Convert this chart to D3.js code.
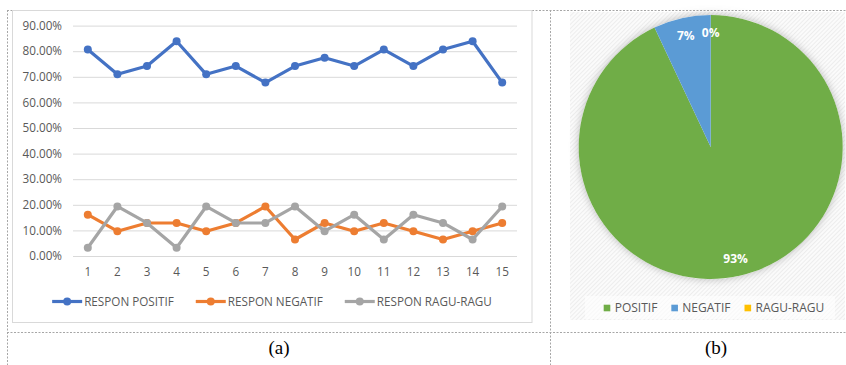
<!DOCTYPE html>
<html>
<head>
<meta charset="utf-8">
<script src="https://cdn.jsdelivr.net/npm/d3@7"></script>
<style>
  body { margin: 0; background: #fff; }
  svg { display: block; }
  text { font-family: "Open Sans", "Noto Sans", sans-serif; }
</style>
</head>
<body>
<svg id="fig" width="846" height="365"></svg>
<script>
// ---- data -------------------------------------------------------------
const categories = ["1","2","3","4","5","6","7","8","9","10","11","12","13","14","15"];
const responPositif = [80.65, 70.97, 74.19, 83.87, 70.97, 74.19, 67.74, 74.19, 77.42, 74.19, 80.65, 74.19, 80.65, 83.87, 67.74];
const responNegatif = [16.13, 9.68, 12.90, 12.90, 9.68, 12.90, 19.35, 6.45, 12.90, 9.68, 12.90, 9.68, 6.45, 9.68, 12.90];
const responRagu    = [3.23, 19.35, 12.90, 3.23, 19.35, 12.90, 12.90, 19.35, 9.68, 16.13, 6.45, 16.13, 12.90, 6.45, 19.35];
const seriesNames   = ["RESPON POSITIF", "RESPON NEGATIF", "RESPON RAGU-RAGU"];
const yTicks = [0, 10, 20, 30, 40, 50, 60, 70, 80, 90];

const pieNames  = ["POSITIF", "NEGATIF", "RAGU-RAGU"];
const pieValues = [93, 7, 0];

const captions = ["(a)", "(b)"];

// ---- setup ------------------------------------------------------------
const svg = d3.select("#fig");
const defs = svg.append("defs");

const hatch = defs.append("pattern")
  .attr("id", "hatch").attr("patternUnits", "userSpaceOnUse")
  .attr("width", 3).attr("height", 3)
  .attr("patternTransform", "rotate(45)");
hatch.append("rect").attr("width", 3).attr("height", 3).attr("fill", "#fbfbfb");
hatch.append("line").attr("x1", 0).attr("y1", 0).attr("x2", 0).attr("y2", 3)
  .attr("stroke", "#e4e4e4").attr("stroke-width", 1.2);

const glow = defs.append("filter").attr("id", "glow")
  .attr("x", "-20%").attr("y", "-20%").attr("width", "140%").attr("height", "140%");
glow.append("feDropShadow").attr("dx", 0).attr("dy", 0)
  .attr("stdDeviation", 4).attr("flood-color", "#8c8c8c").attr("flood-opacity", 0.6);

// ---- table frame (dashed) ---------------------------------------------
const dash = svg.append("g").attr("stroke", "#a6a6a6").attr("stroke-width", 1)
  .attr("stroke-dasharray", "2,1.5").attr("fill", "none");
dash.append("line").attr("x1", 7).attr("x2", 846).attr("y1", 10.5).attr("y2", 10.5);
dash.append("line").attr("x1", 7).attr("x2", 846).attr("y1", 332.5).attr("y2", 332.5);
dash.append("line").attr("x1", 7.5).attr("x2", 7.5).attr("y1", 10).attr("y2", 365);
dash.append("line").attr("x1", 550.5).attr("x2", 550.5).attr("y1", 10).attr("y2", 365);

// ---- (a) line chart ---------------------------------------------------
svg.append("rect").attr("x", 12.5).attr("y", 10.5).attr("width", 519.5).attr("height", 312)
  .attr("fill", "#fff").attr("stroke", "#d9d9d9");

const x = d3.scaleBand().domain(categories).range([73, 517]);
const y = d3.scaleLinear().domain([0, 90]).range([256, 25.6]);

const gy = svg.append("g").attr("transform", "translate(73,0)")
  .call(d3.axisLeft(y).tickValues(yTicks).tickSize(-444).tickPadding(11)
    .tickFormat(d => d3.format(".2f")(d) + "%"));
gy.select(".domain").remove();
gy.selectAll(".tick line").attr("stroke", "#d9d9d9").attr("stroke-width", 1);
gy.selectAll(".tick text").attr("fill", "#595959").style("font-size", "11.7px")
  .style("font-family", "'Open Sans', sans-serif");

const gx = svg.append("g").attr("transform", "translate(0,256)")
  .call(d3.axisBottom(x).tickSize(0).tickPadding(12));
gx.select(".domain").remove();
gx.selectAll(".tick text").attr("fill", "#595959").style("font-size", "11.7px")
  .style("font-family", "'Open Sans', sans-serif");

const seriesData = [responPositif, responNegatif, responRagu];
const seriesColors = ["#4472c4", "#ed7d31", "#a5a5a5"];
const line = d3.line().x((d, i) => x(categories[i]) + x.bandwidth() / 2).y(d => y(d));

seriesData.forEach((vals, k) => {
  const g = svg.append("g");
  g.append("path").datum(vals).attr("d", line).attr("fill", "none")
    .attr("stroke", seriesColors[k]).attr("stroke-width", 3.2)
    .attr("stroke-linejoin", "round").attr("stroke-linecap", "round");
  g.selectAll("circle").data(vals).join("circle")
    .attr("cx", (d, i) => x(categories[i]) + x.bandwidth() / 2)
    .attr("cy", d => y(d)).attr("r", 4).attr("fill", seriesColors[k]);
});

// legend (a)
const legA = svg.append("g");
const itemsA = legA.selectAll("g").data(seriesNames).join("g");
itemsA.append("line").attr("x1", 0).attr("x2", 30).attr("y1", 0).attr("y2", 0)
  .attr("stroke", (d, i) => seriesColors[i]).attr("stroke-width", 3.2);
itemsA.append("circle").attr("cx", 15).attr("cy", 0).attr("r", 4)
  .attr("fill", (d, i) => seriesColors[i]);
itemsA.append("text").attr("x", 32).attr("y", 0).attr("dy", "0.35em")
  .attr("fill", "#595959").style("font-size", "11.7px").text(d => d);
const widthsA = [];
itemsA.each(function () {
  widthsA.push(32 + this.querySelector("text").getComputedTextLength());
});
const totalA = d3.sum(widthsA) + 22 * (widthsA.length - 1);
let startA = 272 - totalA / 2;
itemsA.attr("transform", (d, i) => {
  const t = `translate(${startA},301.5)`;
  startA += widthsA[i] + 22;
  return t;
});

// ---- (b) pie chart ----------------------------------------------------
svg.append("rect").attr("x", 570).attr("y", 12).attr("width", 275).attr("height", 308)
  .attr("fill", "url(#hatch)");

const pieColors = ["#70ad47", "#5b9bd5", "#ffc000"];
const cx = 710.7, cy = 147, R = 132;
const pie = d3.pie().sort(null).value(d => d);
const arcs = pie(pieValues);
const arc = d3.arc().innerRadius(0).outerRadius(R);
const labelArc = d3.arc().innerRadius(114).outerRadius(114);

const gp = svg.append("g").attr("transform", `translate(${cx},${cy})`);
gp.append("circle").attr("r", R).attr("fill", "#fff").attr("filter", "url(#glow)");
gp.selectAll("path").data(arcs).join("path")
  .attr("d", arc).attr("fill", (d, i) => pieColors[i]);
gp.selectAll("text").data(arcs).join("text")
  .attr("transform", d => `translate(${labelArc.centroid(d)})`)
  .attr("text-anchor", "middle").attr("dy", "0.36em")
  .attr("fill", "#fff").style("font-size", "12px").style("font-weight", "700")
  .text(d => d3.format(".0f")(d.data) + "%");

// legend (b)
svg.append("rect").attr("x", 585).attr("y", 296).attr("width", 250).attr("height", 23)
  .attr("fill", "#fff").attr("opacity", 0.6);
const legB = svg.append("g");
const itemsB = legB.selectAll("g").data(pieNames).join("g");
itemsB.append("rect").attr("x", 0).attr("y", -3.3).attr("width", 6.6).attr("height", 6.6)
  .attr("fill", (d, i) => pieColors[i]);
itemsB.append("text").attr("x", 11).attr("y", 0).attr("dy", "0.35em")
  .attr("fill", "#595959").style("font-size", "12px").text(d => d);
const widthsB = [];
itemsB.each(function () {
  widthsB.push(11 + this.querySelector("text").getComputedTextLength());
});
const totalB = d3.sum(widthsB) + 14 * (widthsB.length - 1);
let startB = 714 - totalB / 2;
itemsB.attr("transform", (d, i) => {
  const t = `translate(${startB},308)`;
  startB += widthsB[i] + 14;
  return t;
});

// ---- captions ---------------------------------------------------------
svg.selectAll(".cap").data(captions).join("text").attr("class", "cap")
  .attr("x", (d, i) => [279, 716][i]).attr("y", 354)
  .attr("text-anchor", "middle").attr("fill", "#000")
  .style("font-family", "'Liberation Serif', 'Times New Roman', serif")
  .style("font-size", "19px").text(d => d);
</script>
</body>
</html>
